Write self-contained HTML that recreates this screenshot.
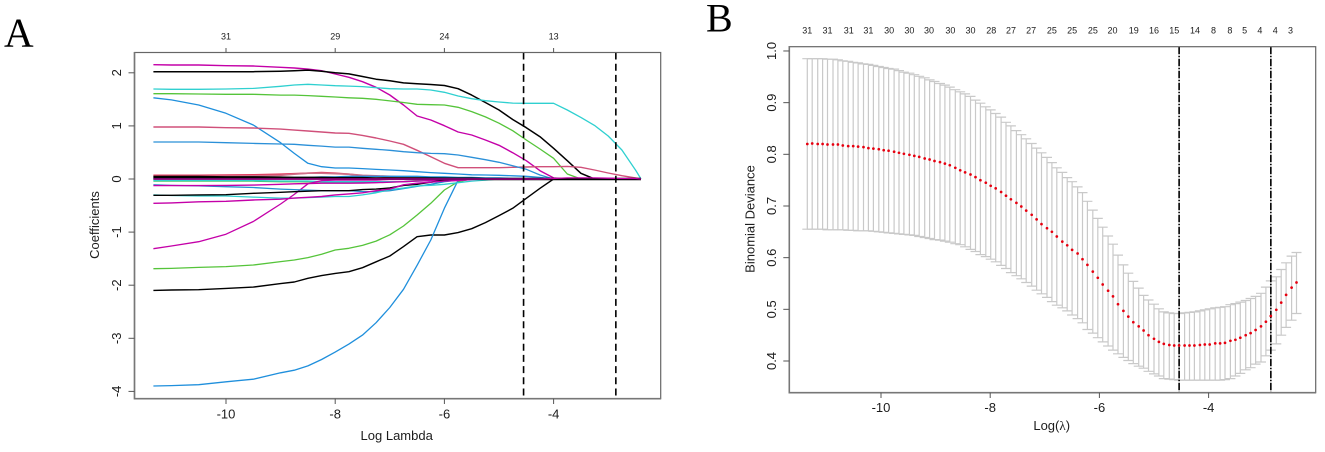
<!DOCTYPE html>
<html lang="en">
<head>
<meta charset="utf-8">
<title>LASSO coefficient paths and cross-validation</title>
<style>
html,body{margin:0;padding:0;background:#fff;}
svg{display:block;}
text{font-family:"Liberation Sans",sans-serif;fill:#1c1c1c;}
.letter{font-family:"Liberation Serif",serif;fill:#000;}
</style>
</head>
<body>
<svg id="fig" xmlns="http://www.w3.org/2000/svg" width="1325" height="452" viewBox="0 0 1325 452">
  <rect x="0" y="0" width="1325" height="452" fill="#fff"/>
  <text class="letter" x="4" y="46.7" font-size="41">A</text>
  <text class="letter" x="706" y="31.7" font-size="40">B</text>
  <g id="panelA"></g>
  <g id="panelB"></g>
  <text x="396.7" y="440" font-size="13" text-anchor="middle">Log Lambda</text>
  <text transform="translate(99,225) rotate(-90)" font-size="13" text-anchor="middle">Coefficients</text>
  <text x="1051.7" y="430" font-size="13" text-anchor="middle">Log(<tspan font-family="'Liberation Serif',serif">λ</tspan>)</text>
  <text transform="translate(754.5,219) rotate(-90)" font-size="13" text-anchor="middle">Binomial Deviance</text>
</svg>
<script>
// ---------- Panel A data ----------
const pathLambda = [-11.33,-11,-10.5,-10,-9.5, -9,-8.75,-8.5,-8.25,-8, -7.75,-7.5,-7.25,-7,-6.75, -6.5,-6.25,-6,-5.75,-5.5, -5.25,-5,-4.75,-4.5,-4.25, -4,-3.75,-3.5,-3.25,-3, -2.75,-2.5,-2.4];
const coefRedNear = [.07,.07,.07,.075,.08, .09,.1,.11,.12,.11, .09,.06,.05,.04,.03, .02,.01,0,0,0, 0,0,0,0,0, 0,0,0,0,0, 0,0,0];
const coefMauveNear = [.05,.05,.05,.055,.06, .07,.09,.11,.11,.10, .09,.07,.06,.05,.04, .03,.02,.01,0,0, 0,0,0,0,0, 0,0,0,0,0, 0,0,0];
const coefGreenNear = [-.04,-.04,-.04,-.04,-.04, -.05,-.05,-.05,-.05,-.06, -.06,-.06,-.06,-.055,-.05, -.03,-.02,-.01,0,0, 0,0,0,0,0, 0,0,0,0,0, 0,0,0];
const coefCyanNear = [-.03,-.03,-.03,-.03,-.03, -.04,-.04,-.04,-.05,-.05, -.05,-.05,-.05,-.05,-.05, -.04,-.03,-.02,-.01,0, 0,0,0,0,0, 0,0,0,0,0, 0,0,0];
const coefBlueNear = [.02,.02,.02,.02,.02, .03,.03,.03,.04,.04, .05,.05,.05,.05,.05, .05,.04,.04,.03,.03, .02,.02,.01,.01,.01, 0,0,0,0,0, 0,0,0];
const coefBlackThick = [.035,.035,.035,.03,.03, .025,.02,.02,.02,.015, .015,.015,.01,.01,.01, .01,.01,.005,.005,.005, 0,0,0,0,0, 0,0,0,0,0, 0,0,0];
const coefMagentaA = [2.153,2.147,2.147,2.134,2.128, 2.103,2.09,2.07,2.04,1.977, 1.915,1.833,1.726,1.582,1.394, 1.186,1.111,1.004,.885,.829, .734,.634,.496,.345,.157, .02,0,0,0,0, 0,0,0];
const coefBlackA = [2.02,2.02,2.02,2.02,2.02, 2.03,2.04,2.05,2.03,2.0, 1.98,1.93,1.88,1.85,1.81, 1.795,1.78,1.76,1.70,1.58, 1.44,1.30,1.12,.967,.797, .578,.345,.107,0,0, 0,0,0];
const coefCyanA = [1.695,1.69,1.69,1.695,1.707, 1.745,1.77,1.783,1.77,1.758, 1.75,1.74,1.72,1.70,1.695, 1.695,1.676,1.632,1.563,1.513, 1.475,1.45,1.43,1.425,1.425, 1.425,1.30,1.16,1.01,.81, .546,.17,0];
const coefGreenA = [1.607,1.607,1.60,1.595,1.595, 1.58,1.58,1.57,1.557,1.544, 1.53,1.52,1.50,1.47,1.44, 1.406,1.40,1.394,1.35,1.27, 1.17,1.05,.91,.734,.565, .39,.094,0,0,0, 0,0,0];
const coefBlueA = [1.53,1.49,1.394,1.237,1.017, .684,.483,.295,.232,.207, .207,.195,.18,.17,.157, .138,.12,.107,.094,.08, .075,.07,.06,.05,.03, 0,0,0,0,0, 0,0,0];
const coefMauveA = [.98,.98,.98,.967,.96, .94,.92,.904,.885,.866, .86,.822,.772,.716,.653, .54,.42,.295,.213,.213, .213,.213,.22,.226,.232, .232,.238,.22,.17,.113, .063,.02,0];
const coefBlueB = [.697,.697,.697,.684,.67, .66,.653,.634,.62,.60, .60,.578,.56,.54,.515, .496,.483,.477,.452,.408, .364,.314,.25,.182,.075, 0,0,0,0,0, 0,0,0];
const coefMagentaB = [-1.312,-1.262,-1.18,-1.04,-.80, -.47,-.29,-.09,-.03,-.02, -.02,-.02,-.02,-.01,-.01, -.01,0,0,0,0, 0,0,0,0,0, 0,0,0,0,0, 0,0,0];
const coefGreenB = [-1.689,-1.683,-1.664,-1.65,-1.62, -1.556,-1.525,-1.48,-1.418,-1.337, -1.306,-1.25,-1.17,-1.05,-.885, -.678,-.458,-.207,-.05,0, 0,0,0,0,0, 0,0,0,0,0, 0,0,0];
const coefBlackB = [-2.097,-2.09,-2.085,-2.06,-2.035, -1.97,-1.94,-1.87,-1.82,-1.777, -1.745,-1.67,-1.56,-1.45,-1.274, -1.086,-1.054,-1.054,-1.01,-.936, -.822,-.69,-.552,-.364,-.176, 0,0,0,0,0, 0,0,0];
const coefBlueC = [-3.898,-3.89,-3.873,-3.82,-3.77, -3.65,-3.6,-3.52,-3.4,-3.26, -3.11,-2.94,-2.706,-2.42,-2.078, -1.626,-1.149,-.55,-.025,0, 0,0,0,0,0, 0,0,0,0,0, 0,0,0];
const coefBlueD = [-.11,-.12,-.13,-.145,-.16, -.19,-.2,-.21,-.22,-.22, -.22,-.235,-.24,-.22,-.18, -.14,-.1,-.05,-.02,0, 0,0,0,0,0, 0,0,0,0,0, 0,0,0];
const coefMagentaC = [-.125,-.125,-.125,-.12,-.115, -.10,-.09,-.085,-.08,-.08, -.08,-.075,-.07,-.06,-.05, -.04,-.03,-.02,-.01,0, 0,0,0,0,0, 0,0,0,0,0, 0,0,0];
const coefCyanB = [-.30,-.31,-.32,-.32,-.34, -.36,-.36,-.35,-.34,-.33, -.33,-.3,-.26,-.2,-.17, -.13,-.12,-.1,-.07,-.04, -.02,0,0,0,0, 0,0,0,0,0, 0,0,0];
const coefBlackC = [-.307,-.307,-.30,-.295,-.27, -.25,-.24,-.23,-.22,-.22, -.22,-.2,-.19,-.17,-.12, -.1,-.06,-.02,0,0, 0,0,0,0,0, 0,0,0,0,0, 0,0,0];
const coefMagentaD = [-.458,-.45,-.43,-.42,-.395, -.38,-.36,-.345,-.33,-.30, -.28,-.26,-.22,-.19,-.11, -.08,-.06,-.04,-.03,-.01, 0,0,0,0,0, 0,0,0,0,0, 0,0,0];
const coefZero = [0,0,0,0,0, 0,0,0,0,0, 0,0,0,0,0, 0,0,0,0,0, 0,0,0,0,0, 0,0,0,0,0, 0,0,0];
const coefMagentaTail = [0,0,0,0,0, 0,0,0,0,0, 0,0,0,0,0, 0,0,0,0,0, 0,0,0,0,0, .01,.02,.02,.02,.015, .01,.01,0];

const pathSeries = [coefRedNear,coefMauveNear,coefGreenNear,coefCyanNear,coefBlueNear,coefMagentaA,coefBlackA,coefCyanA,coefGreenA,coefBlueA,coefMauveA,coefBlueB,coefMagentaB,coefGreenB,coefBlackB,coefBlueC,coefBlueD,coefMagentaC,coefCyanB,coefBlackC,coefMagentaD,coefBlackThick,coefZero,coefMagentaTail];
const pathSeriesNames = ['red-near','mauve-near','green-near','cyan-near','blue-near','magenta-a','black-a','cyan-a','green-a','blue-a','mauve-a','blue-b','magenta-b','green-b','black-b','blue-c','blue-d','magenta-c','cyan-b','black-c','magenta-d','black-thick','black-zero','magenta-tail'];
const pathColors = ['#e23a5c','#d0708a','#55c43a','#2fd0d0','#1f8fdc','#c400a8','#000','#2fd0d0','#55c43a','#1f8fdc','#d0507a','#2b90d8','#c400a8','#55c43a','#000','#1f8fdc','#2490d0','#c400a8','#2fd0d0','#000','#c400a8','#000','#000','#c400a8'];
const pathWidths = [1.6,1.6,1.4,1.4,1.4,1.4,1.5,1.3,1.3,1.3,1.4,1.3,1.3,1.3,1.4,1.3,1.3,1.4,1.3,1.4,1.4,2.6,1.8,1.3];

const xTicksA = [-10,-8,-6,-4];
const yTicksA = [-4,-3,-2,-1,0,1,2];
const topTicksA = [-10,-8,-6,-4];
const topLabelsA = ['31','29','24','13'];
const vlinesA = [-4.55,-2.86];

// ---------- Panel B data ----------
const cvLambda = [-11.35,-11.26,-11.16,-11.07,-10.98,-10.88,-10.79,-10.70,-10.60,-10.51,-10.42,-10.32,-10.23,-10.14,-10.04,-9.95,-9.86,-9.76,-9.67,-9.58,-9.48,-9.39,-9.30,-9.20,-9.11,-9.02,-8.92,-8.83,-8.74,-8.64,-8.55,-8.46,-8.36,-8.27,-8.18,-8.08,-7.99,-7.90,-7.80,-7.71,-7.62,-7.52,-7.43,-7.34,-7.24,-7.15,-7.06,-6.96,-6.87,-6.78,-6.68,-6.59,-6.50,-6.40,-6.31,-6.22,-6.12,-6.03,-5.94,-5.84,-5.75,-5.66,-5.56,-5.47,-5.38,-5.28,-5.19,-5.10,-5.00,-4.91,-4.82,-4.72,-4.63,-4.54,-4.44,-4.35,-4.26,-4.16,-4.07,-3.98,-3.88,-3.79,-3.70,-3.60,-3.51,-3.42,-3.32,-3.23,-3.14,-3.04,-2.95,-2.86,-2.76,-2.67,-2.58,-2.48,-2.39];
const cvMean = [.820,.821,.820,.820,.819,.819,.819,.817,.816,.816,.815,.814,.812,.811,.810,.808,.807,.805,.803,.801,.799,.797,.795,.792,.790,.787,.785,.782,.779,.774,.769,.765,.761,.756,.750,.745,.739,.734,.727,.720,.713,.706,.699,.691,.683,.674,.665,.657,.650,.641,.631,.624,.615,.608,.597,.586,.573,.561,.548,.536,.525,.510,.497,.486,.475,.467,.459,.450,.443,.437,.433,.431,.430,.430,.430,.430,.430,.431,.432,.432,.434,.434,.435,.439,.441,.445,.450,.454,.460,.467,.476,.487,.499,.513,.528,.542,.552];
const cvUpper = [.985,.985,.985,.985,.984,.984,.983,.981,.980,.978,.977,.975,.974,.972,.970,.968,.966,.965,.962,.959,.957,.954,.951,.948,.944,.941,.937,.934,.930,.925,.921,.917,.912,.905,.899,.892,.886,.879,.872,.862,.855,.846,.838,.830,.821,.812,.803,.794,.784,.774,.765,.755,.747,.737,.726,.709,.692,.676,.659,.642,.626,.605,.586,.570,.554,.541,.527,.518,.510,.501,.495,.493,.492,.492,.493,.494,.495,.497,.499,.501,.503,.504,.505,.509,.511,.514,.517,.521,.525,.531,.543,.555,.563,.577,.590,.603,.610];
const cvLower = [.655,.655,.655,.655,.654,.654,.654,.654,.653,.653,.652,.652,.652,.651,.650,.649,.648,.647,.646,.645,.644,.643,.641,.639,.637,.635,.634,.632,.630,.627,.625,.621,.616,.612,.606,.602,.597,.592,.585,.579,.571,.565,.559,.552,.545,.537,.530,.523,.515,.508,.503,.497,.489,.482,.474,.461,.454,.445,.437,.429,.421,.414,.407,.401,.395,.390,.386,.380,.375,.371,.366,.365,.364,.363,.363,.363,.363,.363,.363,.363,.363,.363,.364,.366,.371,.376,.383,.387,.394,.398,.410,.421,.433,.450,.465,.479,.492];

const xTicksB = [-10,-8,-6,-4];
const yTicksB = [0.4,0.5,0.6,0.7,0.8,0.9,1.0];
const topLabelLambdaB = [-11.35,-10.98,-10.59,-10.23,-9.85,-9.48,-9.12,-8.73,-8.36,-7.98,-7.62,-7.25,-6.87,-6.50,-6.12,-5.76,-5.37,-5.00,-4.63,-4.25,-3.91,-3.61,-3.34,-3.06,-2.78,-2.50];
const topLabelsB = ['31','31','31','31','30','30','30','30','30','28','27','27','25','25','25','20','19','16','15','14','8','8','5','4','4','3'];
const vlinesB = [-4.54,-2.86];

// ---------- Scales ----------
const xA = v => 226 + (v + 10) * 54.6;
const yA = v => 179 - 53.1 * v;
const xB = v => 881 + (v + 10) * 54.6;
const yB = v => 361 - (v - 0.4) * 516.7;

const NS = 'http://www.w3.org/2000/svg';
function make(parent, tag, attrs, txt) {
  const el = document.createElementNS(NS, tag);
  for (const k in attrs) el.setAttribute(k, attrs[k]);
  if (txt !== undefined) el.textContent = txt;
  parent.appendChild(el);
  return el;
}

const panelA = document.getElementById('panelA');
const panelB = document.getElementById('panelB');

// ---------- Panel A marks ----------
pathSeries.forEach((vals, s) => {
  const pts = vals.map((v, i) => xA(pathLambda[i]).toFixed(1) + ',' + yA(v).toFixed(1)).join(' ');
  const el = make(panelA, 'polyline', {points: pts, fill: 'none', stroke: pathColors[s], 'stroke-width': pathWidths[s], 'stroke-linejoin': 'round'});
  
  
});
vlinesA.forEach(v => {
  const el = make(panelA, 'line', {x1: xA(v), x2: xA(v), y1: 52.5, y2: 398.7, stroke: '#000', 'stroke-width': 1.6, 'stroke-dasharray': '7 4.2'});
  
  
});
const boxA = make(panelA, 'rect', {x: 134.5, y: 52.5, width: 526.2, height: 346.2, fill: 'none', stroke: '#666', 'stroke-width': 1.2});


const spineA = make(panelA, 'path', {d: 'M134.5 52 V398.7 H661', fill: 'none', stroke: '#777', 'stroke-width': 1.6});


xTicksA.forEach(v => {
  const t = make(panelA, 'line', {x1: xA(v), x2: xA(v), y1: 398.7, y2: 404, stroke: '#555', 'stroke-width': 1});
  
  
  const l = make(panelA, 'text', {x: xA(v), y: 418.7, 'font-size': 13, 'text-anchor': 'middle'}, String(v));
  
  
});
yTicksA.forEach(v => {
  const t = make(panelA, 'line', {x1: 128.5, x2: 134.5, y1: yA(v), y2: yA(v), stroke: '#555', 'stroke-width': 1});
  
  
  const l = make(panelA, 'text', {transform: 'translate(121,' + yA(v) + ') rotate(-90)', 'font-size': 13, 'text-anchor': 'middle'}, String(v));
  
  
});
topTicksA.forEach((v, i) => {
  const t = make(panelA, 'line', {x1: xA(v), x2: xA(v), y1: 48, y2: 52.5, stroke: '#555', 'stroke-width': 1});
  
  
  const l = make(panelA, 'text', {x: xA(v), y: 39.5, 'font-size': 9, 'text-anchor': 'middle'}, topLabelsA[i]);
  
  
});

// ---------- Panel B marks ----------
cvLambda.forEach((v, i) => {
  const x = xB(v);
  const bar = make(panelB, 'path', {
    d: 'M' + x.toFixed(1) + ' ' + yB(cvUpper[i]).toFixed(1) + 'V' + yB(cvLower[i]).toFixed(1) +
       'M' + (x - 5).toFixed(1) + ' ' + yB(cvUpper[i]).toFixed(1) + 'h10' +
       'M' + (x - 5).toFixed(1) + ' ' + yB(cvLower[i]).toFixed(1) + 'h10',
    fill: 'none', stroke: '#c9c9c9', 'stroke-width': 1.2});
  
  
});
vlinesB.forEach(v => {
  const el = make(panelB, 'line', {x1: xB(v), x2: xB(v), y1: 46.7, y2: 392.7, stroke: '#000', 'stroke-width': 1.6, 'stroke-dasharray': '7.5 1.5 1.5 1.5'});
  
  
});
cvLambda.forEach((v, i) => {
  const dot = make(panelB, 'circle', {cx: xB(v).toFixed(1), cy: yB(cvMean[i]).toFixed(1), r: 1.35, fill: '#e6000f'});
  
  
});
const boxB = make(panelB, 'rect', {x: 789.3, y: 46.7, width: 526.4, height: 346, fill: 'none', stroke: '#666', 'stroke-width': 1.2});


const spineB = make(panelB, 'path', {d: 'M789.3 46 V392.7 H1316', fill: 'none', stroke: '#777', 'stroke-width': 1.6});


xTicksB.forEach(v => {
  const t = make(panelB, 'line', {x1: xB(v), x2: xB(v), y1: 392.7, y2: 398, stroke: '#555', 'stroke-width': 1});
  
  
  const l = make(panelB, 'text', {x: xB(v), y: 412, 'font-size': 13, 'text-anchor': 'middle'}, String(v));
  
  
});
yTicksB.forEach(v => {
  const t = make(panelB, 'line', {x1: 783.3, x2: 789.3, y1: yB(v), y2: yB(v), stroke: '#555', 'stroke-width': 1});
  
  
  const l = make(panelB, 'text', {transform: 'translate(776,' + yB(v) + ') rotate(-90)', 'font-size': 13, 'text-anchor': 'middle'}, v.toFixed(1));
  
  
});
topLabelsB.forEach((s, i) => {
  const l = make(panelB, 'text', {x: xB(topLabelLambdaB[i]), y: 33.5, 'font-size': 9, 'text-anchor': 'middle'}, s);
  
  
});
</script>
</body>
</html>
